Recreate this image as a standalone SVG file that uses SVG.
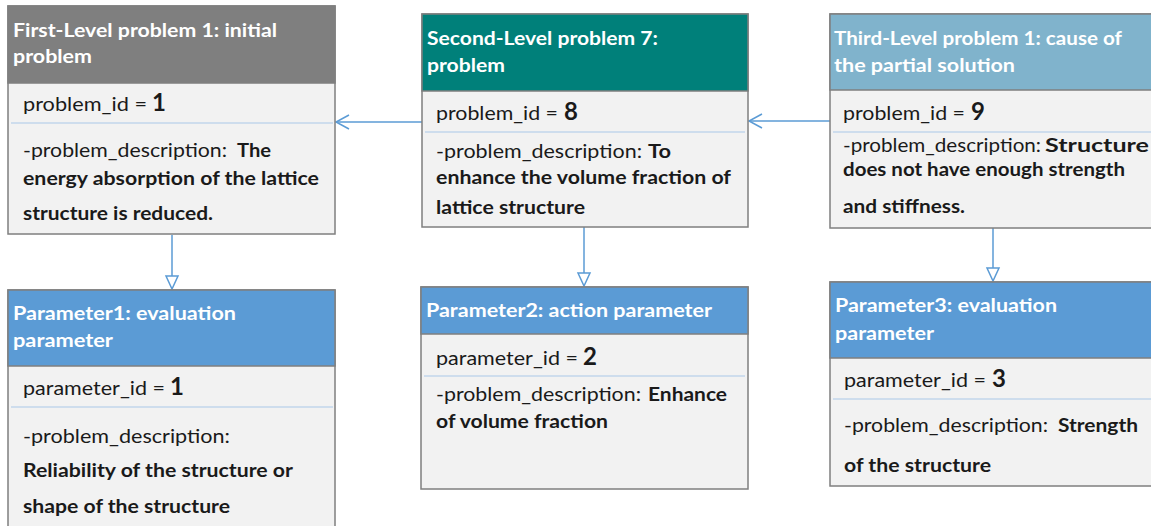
<svg xmlns="http://www.w3.org/2000/svg" width="1151" height="526" viewBox="0 0 1151 526">
<style>
.body{fill:#f2f2f2;stroke:#7f7f7f;stroke-width:1.5}
.hd{stroke:#7f7f7f;stroke-width:1.5}
.div{stroke:#a9c8e8;stroke-width:1.2}
.ht{font-family:Lato,"Liberation Sans",sans-serif;font-weight:bold;font-size:18px;fill:#ffffff}
.t{font-family:Lato,"Liberation Sans",sans-serif;font-size:18.5px;fill:#1a1a1a}
.b{font-family:Lato,"Liberation Sans",sans-serif;font-weight:bold;font-size:18px;fill:#1a1a1a}
.n{font-family:Lato,"Liberation Sans",sans-serif;font-weight:bold;font-size:24px;fill:#1a1a1a}
.c{stroke:#5b9bd5;stroke-width:1.5;fill:none}
.tri{stroke:#5b9bd5;stroke-width:1.5;fill:#ffffff}
</style>
<g id="connectors">
<line x1="422" y1="122" x2="336" y2="122" class="c"/>
<path d="M349,115 L336,122 L349,129" class="c"/>
<line x1="830" y1="121" x2="749" y2="121" class="c"/>
<path d="M762,114 L749,121 L762,128" class="c"/>
<line x1="172" y1="235" x2="172" y2="276" class="c"/>
<path d="M166,276 L178,276 L172,289 Z" class="tri"/>
<line x1="584" y1="227" x2="584" y2="273" class="c"/>
<path d="M578,273 L590,273 L584,286 Z" class="tri"/>
<line x1="993" y1="228" x2="993" y2="268" class="c"/>
<path d="M987,268 L999,268 L993,281 Z" class="tri"/>
</g>
<g id="node1">
<rect x="8" y="6" width="327" height="228" class="body"/>
<rect x="8" y="6" width="327" height="77" fill="#7f7f7f" class="hd"/>
<text x="13" y="37" class="ht" textLength="264" lengthAdjust="spacingAndGlyphs">First-Level problem 1: initial</text>
<text x="13" y="63" class="ht" textLength="79" lengthAdjust="spacingAndGlyphs">problem</text>
<text x="23" y="111" class="t" textLength="124" lengthAdjust="spacingAndGlyphs">problem_id =</text>
<text x="152" y="111" class="n">1</text>
<line x1="11" y1="123" x2="333" y2="123" class="div"/>
<text x="23" y="157" class="t" textLength="204" lengthAdjust="spacingAndGlyphs">-problem_description:</text>
<text x="237" y="157" class="b" textLength="34" lengthAdjust="spacingAndGlyphs">The</text>
<text x="23" y="185" class="b" textLength="296" lengthAdjust="spacingAndGlyphs">energy absorption of the lattice</text>
<text x="23" y="220" class="b" textLength="190" lengthAdjust="spacingAndGlyphs">structure is reduced.</text>
</g>
<g id="node2">
<rect x="422" y="14" width="326" height="213" class="body"/>
<rect x="422" y="14" width="326" height="77" fill="#00807a" class="hd"/>
<text x="427" y="45" class="ht" textLength="231" lengthAdjust="spacingAndGlyphs">Second-Level problem 7:</text>
<text x="427" y="72" class="ht" textLength="78" lengthAdjust="spacingAndGlyphs">problem</text>
<text x="436" y="120" class="t" textLength="122" lengthAdjust="spacingAndGlyphs">problem_id =</text>
<text x="564" y="120" class="n">8</text>
<line x1="425" y1="132" x2="745" y2="132" class="div"/>
<text x="436" y="158" class="t" textLength="206" lengthAdjust="spacingAndGlyphs">-problem_description:</text>
<text x="648" y="158" class="b" textLength="23" lengthAdjust="spacingAndGlyphs">To</text>
<text x="436" y="184" class="b" textLength="295" lengthAdjust="spacingAndGlyphs">enhance the volume fraction of</text>
<text x="436" y="214" class="b" textLength="149" lengthAdjust="spacingAndGlyphs">lattice structure</text>
</g>
<g id="node3">
<rect x="830" y="14" width="330" height="214" class="body"/>
<rect x="830" y="14" width="330" height="76" fill="#80b3cc" class="hd"/>
<text x="834" y="45" class="ht" textLength="288" lengthAdjust="spacingAndGlyphs">Third-Level problem 1: cause of</text>
<text x="834" y="72" class="ht" textLength="181" lengthAdjust="spacingAndGlyphs">the partial solution</text>
<text x="843" y="120" class="t" textLength="122" lengthAdjust="spacingAndGlyphs">problem_id =</text>
<text x="971" y="120" class="n">9</text>
<line x1="833" y1="132" x2="1151" y2="132" class="div"/>
<text x="843" y="152" class="t" textLength="198" lengthAdjust="spacingAndGlyphs">-problem_description:</text>
<text x="1045" y="152" class="b" textLength="104" lengthAdjust="spacingAndGlyphs">Structure</text>
<text x="843" y="176" class="b" textLength="282" lengthAdjust="spacingAndGlyphs">does not have enough strength</text>
<text x="843" y="213" class="b" textLength="122" lengthAdjust="spacingAndGlyphs">and stiffness.</text>
</g>
<g id="node4">
<rect x="8" y="290" width="327" height="250" class="body"/>
<rect x="8" y="290" width="327" height="76" fill="#5b9bd5" class="hd"/>
<text x="13" y="320" class="ht" textLength="223" lengthAdjust="spacingAndGlyphs">Parameter1: evaluation</text>
<text x="13" y="347" class="ht" textLength="100" lengthAdjust="spacingAndGlyphs">parameter</text>
<text x="23" y="395" class="t" textLength="142" lengthAdjust="spacingAndGlyphs">parameter_id =</text>
<text x="170" y="395" class="n">1</text>
<line x1="11" y1="407" x2="333" y2="407" class="div"/>
<text x="23" y="443" class="t" textLength="207" lengthAdjust="spacingAndGlyphs">-problem_description:</text>
<text x="23" y="477" class="b" textLength="270" lengthAdjust="spacingAndGlyphs">Reliability of the structure or</text>
<text x="23" y="513" class="b" textLength="207" lengthAdjust="spacingAndGlyphs">shape of the structure</text>
</g>
<g id="node5">
<rect x="421" y="287" width="327" height="202" class="body"/>
<rect x="421" y="287" width="327" height="47" fill="#5b9bd5" class="hd"/>
<text x="426" y="317" class="ht" textLength="286" lengthAdjust="spacingAndGlyphs">Parameter2: action parameter</text>
<text x="436" y="365" class="t" textLength="142" lengthAdjust="spacingAndGlyphs">parameter_id =</text>
<text x="583" y="365" class="n">2</text>
<line x1="424" y1="376" x2="745" y2="376" class="div"/>
<text x="436" y="401" class="t" textLength="205" lengthAdjust="spacingAndGlyphs">-problem_description:</text>
<text x="648" y="401" class="b" textLength="79" lengthAdjust="spacingAndGlyphs">Enhance</text>
<text x="436" y="428" class="b" textLength="172" lengthAdjust="spacingAndGlyphs">of volume fraction</text>
</g>
<g id="node6">
<rect x="830" y="282" width="330" height="204" class="body"/>
<rect x="830" y="282" width="330" height="76" fill="#5b9bd5" class="hd"/>
<text x="835" y="312" class="ht" textLength="222" lengthAdjust="spacingAndGlyphs">Parameter3: evaluation</text>
<text x="835" y="340" class="ht" textLength="99" lengthAdjust="spacingAndGlyphs">parameter</text>
<text x="844" y="387" class="t" textLength="142" lengthAdjust="spacingAndGlyphs">parameter_id =</text>
<text x="992" y="387" class="n">3</text>
<line x1="833" y1="399" x2="1151" y2="399" class="div"/>
<text x="844" y="432" class="t" textLength="204" lengthAdjust="spacingAndGlyphs">-problem_description:</text>
<text x="1058" y="432" class="b" textLength="80" lengthAdjust="spacingAndGlyphs">Strength</text>
<text x="844" y="472" class="b" textLength="147" lengthAdjust="spacingAndGlyphs">of the structure</text>
</g>
</svg>
